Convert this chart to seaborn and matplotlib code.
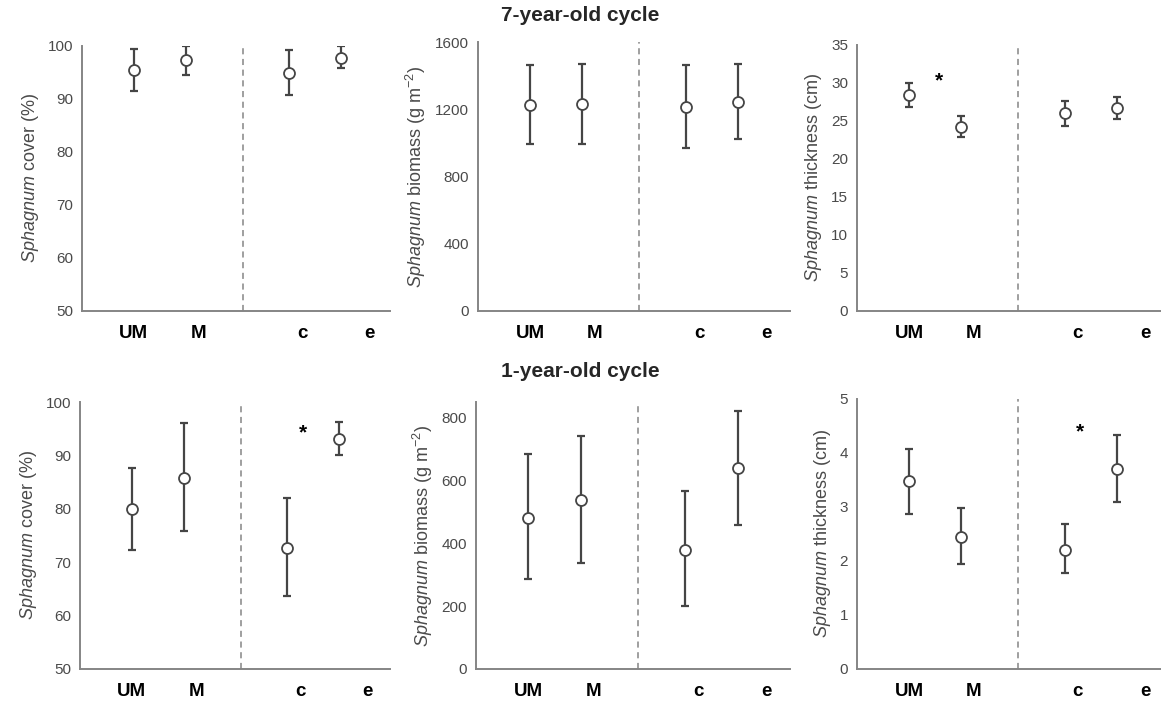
import numpy as np
import pandas as pd
import matplotlib.pyplot as plt
import seaborn as sns

# groups: unmown / mown, control / experiment
groups = ["UM", "M", "c", "e"]
slots = ["UM", "M", "", "c", "e"]   # empty slot leaves room for the divider

# 7-year-old cycle
cover7_mean = [95.4, 97.3, 94.9, 97.8]
cover7_lo = [91.6, 94.6, 90.8, 95.9]
cover7_hi = [99.5, 100.0, 99.2, 100.0]

biomass7_mean = [1224, 1234, 1214, 1244]
biomass7_lo = [992, 996, 970, 1026]
biomass7_hi = [1465, 1471, 1465, 1471]

thick7_mean = [28.4, 24.2, 26.0, 26.7]
thick7_lo = [26.8, 22.9, 24.4, 25.2]
thick7_hi = [30.0, 25.6, 27.6, 28.1]

# 1-year-old cycle
cover1_mean = [79.9, 85.7, 72.7, 93.0]
cover1_lo = [72.3, 75.8, 63.6, 90.0]
cover1_hi = [87.7, 96.0, 82.1, 96.2]

biomass1_mean = [481, 537, 379, 639]
biomass1_lo = [286, 337, 200, 460]
biomass1_hi = [684, 742, 566, 821]

thick1_mean = [3.48, 2.44, 2.21, 3.70]
thick1_lo = [2.87, 1.94, 1.77, 3.10]
thick1_hi = [4.08, 2.98, 2.69, 4.33]

sns.set_style("white")
plt.rcParams['font.family'] = ['Liberation Sans', 'DejaVu Sans']
plt.rcParams['mathtext.fontset'] = 'custom'
plt.rcParams['mathtext.rm'] = 'Liberation Sans'
plt.rcParams['mathtext.it'] = 'Liberation Sans:italic'

GRAY = '#858585'
DARK = '#454545'
TXT = '#4a4a4a'

fig = plt.figure(figsize=(11.61, 7.08), dpi=100)

W, H = 1161, 708


def make_ax(left, bottom, top, right):
    return fig.add_axes([left / W, 1 - bottom / H, (right - left) / W, (bottom - top) / H])


panels = [
    # (mean, lo, hi, ylabel, ylim, yticks, box, xmax)
    (cover7_mean, cover7_lo, cover7_hi, r"$\it{Sphagnum}$ cover (%)",
     (50, 100), np.arange(50, 101, 10), (82, 311, 46, 390), 4.94),
    (biomass7_mean, biomass7_lo, biomass7_hi, r"$\it{Sphagnum}$ biomass (g m$^{-2}$)",
     (0, 1600), np.arange(0, 1601, 400), (478, 311, 42, 790), 5.0),
    (thick7_mean, thick7_lo, thick7_hi, r"$\it{Sphagnum}$ thickness (cm)",
     (0, 35), np.arange(0, 36, 5), (857, 311, 45, 1161), 4.85),
    (cover1_mean, cover1_lo, cover1_hi, r"$\it{Sphagnum}$ cover (%)",
     (50, 100), np.arange(50, 101, 10), (80, 669, 402, 390), 4.98),
    (biomass1_mean, biomass1_lo, biomass1_hi, r"$\it{Sphagnum}$ biomass (g m$^{-2}$)",
     (0, 850), np.arange(0, 801, 200), (476, 669, 402, 790), 5.0),
    (thick1_mean, thick1_lo, thick1_hi, r"$\it{Sphagnum}$ thickness (cm)",
     (0, 5), np.arange(0, 6, 1), (857, 669, 399, 1161), 4.85),
]

# significance stars (panel index, x, y)
stars = [(2, 0.58, 30.3), (3, 3.3, 94.3), (5, 3.3, 4.4)]

axes = []
for mean, lo, hi, ylab, ylim, yticks, box, xmax in panels:
    ax = make_ax(*box)
    df = pd.DataFrame({"group": groups, "mean": mean, "lo": lo, "hi": hi})
    df["x"] = [slots.index(g) for g in df["group"]]

    ax.errorbar(df["x"], df["mean"],
                yerr=[df["mean"] - df["lo"], df["hi"] - df["mean"]],
                fmt='none', ecolor=DARK, elinewidth=1.6, capsize=2.6,
                capthick=1.6, zorder=2)
    sns.scatterplot(data=df, x="x", y="mean", ax=ax, s=62, color='white',
                    edgecolor=DARK, linewidth=1.3, zorder=3, clip_on=False)

    ax.axvline(2.1, color=GRAY, lw=1.1, ls=(0, (4, 3)), zorder=1)

    ax.set_xlim(-1, xmax)
    ax.set_ylim(*ylim)
    ax.set_yticks(yticks)
    ax.set_xticks([0, 1.25, 3.25, 4.55])
    ax.set_xticklabels(groups, fontsize=13.5, fontweight='bold', color='black')
    ax.tick_params(axis='x', length=0, pad=10)
    ax.tick_params(axis='y', length=3.5, width=1, color=GRAY, direction='out',
                   labelsize=11, labelcolor=TXT, pad=3)
    ax.set_xlabel("")
    ax.set_ylabel(ylab, fontsize=13, color=TXT, labelpad=5)
    for side in ['top', 'right']:
        ax.spines[side].set_visible(False)
    for side in ['left', 'bottom']:
        ax.spines[side].set_color(GRAY)
        ax.spines[side].set_linewidth(1.4)
    axes.append(ax)

for i, sx, sy in stars:
    axes[i].text(sx, sy, "*", ha='center', va='center', fontsize=15,
                 fontweight='bold', color='black')

fig.text(580 / W, 1 - 21 / H, "7-year-old cycle", ha='center', va='baseline',
         fontsize=15, fontweight='bold')
fig.text(580 / W, 1 - 377 / H, "1-year-old cycle", ha='center', va='baseline',
         fontsize=15, fontweight='bold')

plt.savefig('out.png', dpi=100)
